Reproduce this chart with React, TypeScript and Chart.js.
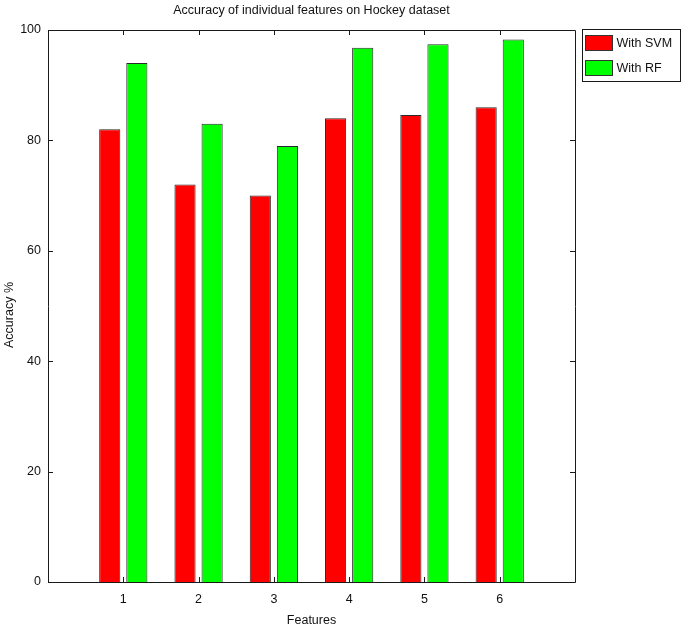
import React, { useEffect, useRef } from "react";
import { Chart, registerables } from "chart.js";

Chart.register(...registerables);

const categories = ["", "1", "2", "3", "4", "5", "6", ""];
const svmValues = [null, 82, 72, 70, 84, 84.6, 86, null];
const rfValues = [null, 94, 83, 79, 96.8, 97.4, 98.3, null];
const yTicks = [0, 20, 40, 60, 80, 100];
const seriesLabels = ["With SVM", "With RF"];
const seriesColors = ["#ff0000", "#00ff00"];
const yTitle = "Accuracy %";

const FONT = "'Liberation Sans', Arial, sans-serif";

const framePlugin = {
  id: "frameAndLegend",
  afterDraw(chart: any) {
    const ctx = chart.ctx;
    const { left, right, top, bottom } = chart.chartArea;
    const xs = chart.scales.x;
    const ys = chart.scales.y;
    ctx.save();
    ctx.strokeStyle = "#1a1a1a";
    ctx.lineWidth = 1;
    ctx.beginPath();
    ctx.rect(Math.round(left) + 0.5, Math.round(top) + 0.5, Math.round(right - left), Math.round(bottom - top));
    ctx.stroke();
    ctx.beginPath();
    const tl = 5;
    yTicks.forEach((v) => {
      const y = Math.round(ys.getPixelForValue(v)) + 0.5;
      ctx.moveTo(left, y);
      ctx.lineTo(left + tl, y);
      ctx.moveTo(right, y);
      ctx.lineTo(right - tl, y);
    });
    categories.forEach((c, i) => {
      if (!c) return;
      const x = Math.round(xs.getPixelForValue(i)) + 0.5;
      ctx.moveTo(x, bottom);
      ctx.lineTo(x, bottom - tl);
      ctx.moveTo(x, top);
      ctx.lineTo(x, top + tl);
    });
    ctx.stroke();

    // y title
    ctx.save();
    ctx.translate(10, (top + bottom) / 2 + 9);
    ctx.rotate(-Math.PI / 2);
    ctx.font = `12.5px ${FONT}`;
    ctx.fillStyle = "#111";
    ctx.textAlign = "center";
    ctx.textBaseline = "middle";
    ctx.fillText(yTitle, 0, 0);
    ctx.restore();

    // legend
    const lx = Math.round(right) + 7.5;
    const ly = Math.round(top) - 0.5;
    const lw = 98;
    const lh = 52;
    ctx.fillStyle = "#ffffff";
    ctx.fillRect(lx, ly, lw, lh);
    ctx.strokeStyle = "#1a1a1a";
    ctx.strokeRect(lx, ly, lw, lh);
    ctx.font = `12.5px ${FONT}`;
    ctx.textBaseline = "middle";
    ctx.textAlign = "left";
    seriesLabels.forEach((lab, i) => {
      const sy = ly + 6 + i * 25;
      ctx.fillStyle = seriesColors[i];
      ctx.fillRect(lx + 3, sy, 27, 15);
      ctx.strokeStyle = "#333";
      ctx.strokeRect(lx + 3, sy, 27, 15);
      ctx.fillStyle = "#111";
      ctx.fillText(lab, lx + 34, sy + 8);
    });
    ctx.restore();
  },
};

export default function App() {
  const ref = useRef<HTMLCanvasElement>(null);
  useEffect(() => {
    if (!ref.current) return;
    const chart = new Chart(ref.current, {
      type: "bar",
      data: {
        labels: categories,
        datasets: [
          {
            label: seriesLabels[0],
            data: svmValues as any,
            backgroundColor: seriesColors[0],
            borderColor: "#2a2a2a",
            borderWidth: 1,
            barPercentage: 0.78,
            categoryPercentage: 0.72,
          },
          {
            label: seriesLabels[1],
            data: rfValues as any,
            backgroundColor: seriesColors[1],
            borderColor: "#2a2a2a",
            borderWidth: 1,
            barPercentage: 0.78,
            categoryPercentage: 0.72,
          },
        ],
      },
      options: {
        responsive: false,
        animation: false,
        layout: { padding: { left: 0, right: 110, top: 0, bottom: 0 } },
        plugins: {
          legend: { display: false },
          tooltip: { enabled: false },
          title: {
            display: true,
            text: "Accuracy of individual features on Hockey dataset",
            fullSize: false,
            color: "#111",
            font: { family: FONT, size: 12.5, weight: "normal" },
            padding: { top: 3, bottom: 12 },
          },
        },
        scales: {
          x: {
            type: "category",
            offset: false,
            grid: { display: false, drawTicks: false },
            border: { display: false },
            ticks: {
              color: "#111",
              font: { family: FONT, size: 12.5 },
              padding: 10,
              autoSkip: false,
              maxRotation: 0,
            },
            title: {
              display: true,
              text: "Features",
              color: "#111",
              font: { family: FONT, size: 12.5 },
              padding: { top: 0, bottom: 1 },
            },
            afterFit(scale: any) {
              scale.height = 47;
            },
          },
          y: {
            min: 0,
            max: 100,
            grid: { display: false, drawTicks: false },
            border: { display: false },
            ticks: {
              stepSize: 20,
              color: "#111",
              font: { family: FONT, size: 12.5 },
              padding: 7,
            },
            title: { display: false },
            afterFit(scale: any) {
              scale.width = 48;
            },
          },
        },
      },
      plugins: [framePlugin],
    });
    return () => chart.destroy();
  }, []);
  return (
    <div style={{ position: "absolute", left: 0, top: 0, width: 685, height: 629, background: "#fff" }}>
      <canvas ref={ref} width={685} height={629} style={{ display: "block" }} />
    </div>
  );
}
